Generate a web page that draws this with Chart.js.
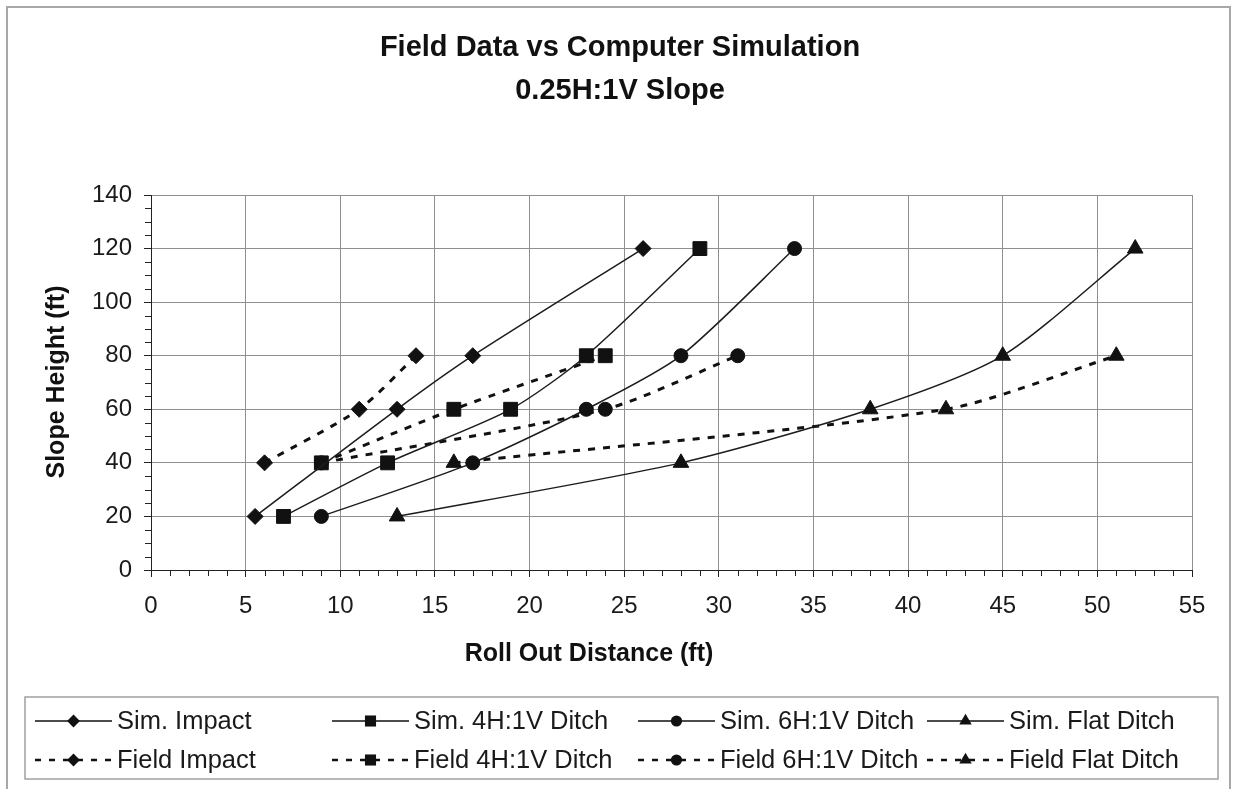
<!DOCTYPE html>
<html>
<head>
<meta charset="utf-8">
<script src="https://cdn.jsdelivr.net/npm/chart.js@4.4.1/dist/chart.umd.min.js"></script>
<style>
  html, body { margin: 0; padding: 0; background: #fff; }
</style>
</head>
<body>
<canvas id="myChart" width="1233" height="789"></canvas>
<script>

// values (x = roll out distance ft, y = slope height ft)
const sim_impact_x = [5.5, 13, 17, 26]
const sim_impact_y = [20, 60, 80, 120]
const sim_4h_x = [7, 12.5, 19, 23, 29]
const sim_4h_y = [20, 40, 60, 80, 120]
const sim_6h_x = [9, 17, 23, 28, 34]
const sim_6h_y = [20, 40, 60, 80, 120]
const sim_flat_x = [13, 28, 38, 45, 52]
const sim_flat_y = [20, 40, 60, 80, 120]

const field_impact_x = [6, 11, 14]
const field_impact_y = [40, 60, 80]
const field_4h_x = [9, 16, 24]
const field_4h_y = [40, 60, 80]
const field_6h_x = [9, 24, 31]
const field_6h_y = [40, 60, 80]
const field_flat_x = [16, 42, 51]
const field_flat_y = [40, 60, 80]

const series_labels = ['Sim. Impact', 'Sim. 4H:1V Ditch', 'Sim. 6H:1V Ditch', 'Sim. Flat Ditch',
                       'Field Impact', 'Field 4H:1V Ditch', 'Field 6H:1V Ditch', 'Field Flat Ditch']

const title_lines = ['Field Data vs Computer Simulation', '0.25H:1V Slope']
const x_title = 'Roll Out Distance (ft)'
const y_title = 'Slope Height (ft)'

const FONT = '"Liberation Sans", Arial, sans-serif'
const INK = '#111'

function make_points(xs, ys){
    return xs.map((x, i) => ({x: x, y: ys[i]}))
}

// marker sizes per style
const marker_radius = {rectRot: 8, rect: 9.8, circle: 7, triangle: 9}

function sim_set(label, xs, ys, style){
    return {
        label: label,
        data: make_points(xs, ys),
        showLine: true,
        borderColor: '#1c1c1c',
        borderWidth: 1.5,
        tension: 0.25,
        pointStyle: style,
        pointRadius: marker_radius[style],
        pointBackgroundColor: INK,
        pointBorderColor: INK,
        pointBorderWidth: 1,
        dashed: false
    }
}

function field_set(label, xs, ys, style){
    return {
        label: label,
        data: make_points(xs, ys),
        showLine: true,
        borderColor: INK,
        borderWidth: 3,
        borderDash: [7, 8],
        tension: 0.25,
        pointStyle: style,
        pointRadius: marker_radius[style],
        pointBackgroundColor: INK,
        pointBorderColor: INK,
        pointBorderWidth: 1,
        dashed: true
    }
}

const datasets = [
    sim_set(series_labels[0], sim_impact_x, sim_impact_y, 'rectRot'),
    sim_set(series_labels[1], sim_4h_x, sim_4h_y, 'rect'),
    sim_set(series_labels[2], sim_6h_x, sim_6h_y, 'circle'),
    sim_set(series_labels[3], sim_flat_x, sim_flat_y, 'triangle'),
    field_set(series_labels[4], field_impact_x, field_impact_y, 'rectRot'),
    field_set(series_labels[5], field_4h_x, field_4h_y, 'rect'),
    field_set(series_labels[6], field_6h_x, field_6h_y, 'circle'),
    field_set(series_labels[7], field_flat_x, field_flat_y, 'triangle')
]

// small marker painter for the legend
function draw_marker(ctx, style, x, y, r){
    ctx.beginPath()
    if (style == 'rectRot'){
        ctx.moveTo(x, y - r); ctx.lineTo(x + r, y); ctx.lineTo(x, y + r); ctx.lineTo(x - r, y)
    }
    else if (style == 'rect'){
        const s = r * Math.SQRT1_2
        ctx.rect(x - s, y - s, 2 * s, 2 * s)
    }
    else if (style == 'circle'){
        ctx.arc(x, y, r, 0, Math.PI * 2)
    }
    else if (style == 'triangle'){
        ctx.moveTo(x, y - r)
        ctx.lineTo(x + r * Math.sin(Math.PI / 3), y + r / 2)
        ctx.lineTo(x - r * Math.sin(Math.PI / 3), y + r / 2)
    }
    ctx.closePath()
    ctx.fill()
}

const framePlugin = {
    id: 'frame',
    beforeDraw(chart){
        const ctx = chart.ctx
        ctx.save()
        ctx.fillStyle = '#fff'
        ctx.fillRect(0, 0, chart.width, chart.height)
        ctx.strokeStyle = '#a8a8a8'
        ctx.lineWidth = 2
        ctx.strokeRect(7, 7, 1223, 820)
        ctx.restore()
    },
    afterDraw(chart){
        const ctx = chart.ctx
        const xs = chart.scales.x
        const ys = chart.scales.y
        ctx.save()

        // minor ticks
        ctx.strokeStyle = '#222'
        ctx.lineWidth = 1
        ctx.beginPath()
        for (let v = 1; v < 55; v++){
            if (v % 5 == 0) continue
            const px = Math.round(xs.getPixelForValue(v)) + 0.5
            ctx.moveTo(px, ys.bottom)
            ctx.lineTo(px, ys.bottom + 6)
        }
        for (let v = 5; v < 140; v += 5){
            if (v % 20 == 0) continue
            const py = Math.round(ys.getPixelForValue(v)) + 0.5
            ctx.moveTo(xs.left - 6, py)
            ctx.lineTo(xs.left, py)
        }
        ctx.stroke()

        // titles
        ctx.fillStyle = '#111'
        ctx.textAlign = 'center'
        ctx.textBaseline = 'middle'
        ctx.font = 'bold 29px ' + FONT
        ctx.fillText(title_lines[0], 620, 48)
        ctx.fillText(title_lines[1], 620, 91)

        ctx.font = 'bold 25px ' + FONT
        ctx.fillText(x_title, 589, 654)
        ctx.save()
        ctx.translate(57, 382)
        ctx.rotate(-Math.PI / 2)
        ctx.fillText(y_title, 0, 0)
        ctx.restore()

        // legend
        ctx.strokeStyle = '#a0a0a0'
        ctx.lineWidth = 1.5
        ctx.strokeRect(25, 697, 1193, 82)

        const col_x = [35, 332, 638, 927]
        const row_y = [721, 760]
        const sample_w = 77
        ctx.font = '25.5px ' + FONT
        ctx.textAlign = 'left'
        chart.data.datasets.forEach((ds, i) => {
            const x0 = col_x[i % 4]
            const y0 = row_y[Math.floor(i / 4)]
            const mid = x0 + sample_w / 2
            ctx.strokeStyle = INK
            ctx.fillStyle = INK
            ctx.beginPath()
            if (ds.dashed){
                ctx.lineWidth = 2.5
                ctx.setLineDash([6, 8])
                ctx.lineDashOffset = 0
            } else {
                ctx.lineWidth = 1.5
                ctx.setLineDash([])
            }
            ctx.moveTo(x0, y0)
            ctx.lineTo(x0 + sample_w, y0)
            ctx.stroke()
            ctx.setLineDash([])
            draw_marker(ctx, ds.pointStyle, mid, y0, ds.pointRadius * 0.8)
            ctx.fillStyle = '#1a1a1a'
            ctx.fillText(ds.label, x0 + sample_w + 5, y0 + 1)
        })

        ctx.restore()
    }
}

const ctx = document.getElementById('myChart').getContext('2d')
const myChart = new Chart(ctx, {
    type: 'scatter',
    data: { datasets: datasets },
    options: {
        responsive: false,
        animation: false,
        layout: { padding: { left: 0, top: 195, right: 41, bottom: 119 } },
        plugins: {
            legend: { display: false },
            title: { display: false },
            tooltip: { enabled: false }
        },
        scales: {
            x: {
                type: 'linear',
                min: 0,
                max: 55,
                afterFit: (s) => { s.height = 100 },
                ticks: { stepSize: 5, padding: 15, color: '#1a1a1a', font: { family: FONT, size: 24 } },
                grid: { color: '#8f8f8f', lineWidth: 1, drawTicks: true, tickLength: 7, tickColor: '#222' },
                border: { display: true, color: '#222', width: 1 }
            },
            y: {
                type: 'linear',
                min: 0,
                max: 140,
                afterFit: (s) => { s.width = 151 },
                ticks: { stepSize: 20, padding: 12, color: '#1a1a1a', font: { family: FONT, size: 24 } },
                grid: { color: '#8f8f8f', lineWidth: 1, drawTicks: true, tickLength: 7, tickColor: '#222' },
                border: { display: true, color: '#222', width: 1 }
            }
        }
    },
    plugins: [framePlugin]
})

</script>
</body>
</html>
